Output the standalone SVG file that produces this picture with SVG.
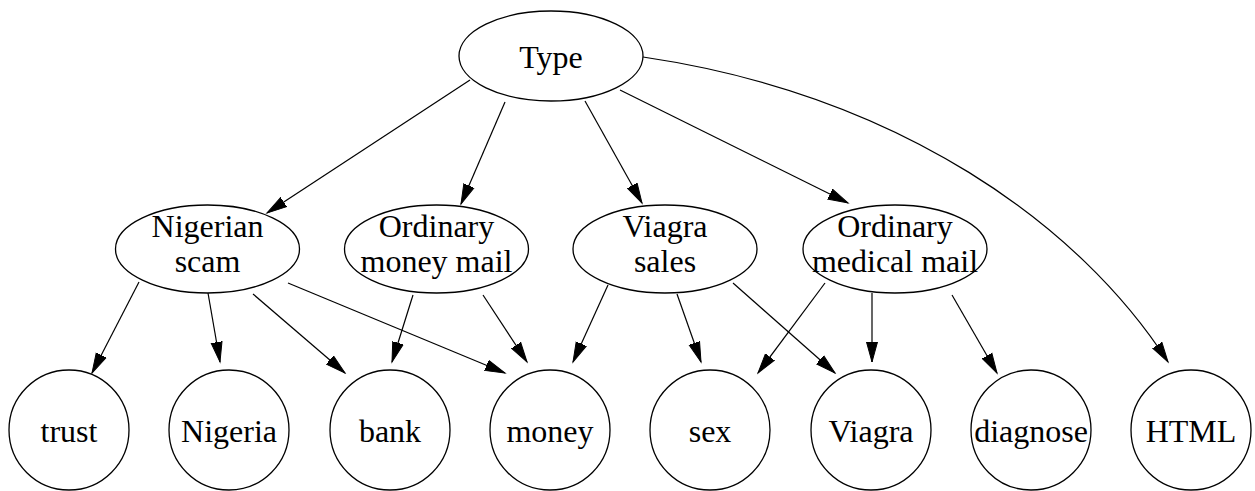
<svg xmlns="http://www.w3.org/2000/svg" width="1255" height="491" viewBox="0 0 1255 491">
<style>
.n{fill:#fff;stroke:#000;stroke-width:1.3}
.t{font-family:"Liberation Serif","Times New Roman",serif;font-size:32px;text-anchor:middle;fill:#000}
.e{fill:none;stroke:#000;stroke-width:1.2;marker-end:url(#arr)}
</style>
<defs>
<marker id="arr" markerWidth="22" markerHeight="13" refX="20" refY="6.5" orient="auto" markerUnits="userSpaceOnUse">
<path d="M0,1 L20,6.5 L0,12 z" fill="#000" stroke="#000" stroke-width="1"/>
</marker>
</defs>
<rect width="1255" height="491" fill="#fff"/>
<g id="connectors">
<path class="e" d="M470,80 L267,213"/>
<path class="e" d="M505,102 L461,204"/>
<path class="e" d="M585,101 L642,203"/>
<path class="e" d="M620,90 L848,203"/>
<path class="e" d="M643,57 C900,95 1080,225 1168,362"/>
<path class="e" d="M139,282 L92,373"/>
<path class="e" d="M208,293 L220,362"/>
<path class="e" d="M253,294 L345,373"/>
<path class="e" d="M288,283 L505,373"/>
<path class="e" d="M413,295 L392,362"/>
<path class="e" d="M483,295 L527,362"/>
<path class="e" d="M608,285 L573,362"/>
<path class="e" d="M677,294 L701,362"/>
<path class="e" d="M733,283 L835,373"/>
<path class="e" d="M825,283 L758,373"/>
<path class="e" d="M872,293 L872,362"/>
<path class="e" d="M952,295 L997,373"/>
</g>
<g id="type"><ellipse class="n" cx="551" cy="56" rx="92" ry="45"/><text class="t" x="551" y="68">Type</text></g>
<g id="nigerian-scam"><ellipse class="n" cx="207.5" cy="249" rx="92" ry="44"/><text class="t" x="207.5" y="237">Nigerian</text><text class="t" x="207.5" y="272">scam</text></g>
<g id="ordinary-money-mail"><ellipse class="n" cx="436.5" cy="249" rx="92" ry="44"/><text class="t" x="436.5" y="237">Ordinary</text><text class="t" x="436.5" y="272">money mail</text></g>
<g id="viagra-sales"><ellipse class="n" cx="665" cy="249" rx="92" ry="44"/><text class="t" x="665" y="237">Viagra</text><text class="t" x="665" y="272">sales</text></g>
<g id="ordinary-medical-mail"><ellipse class="n" cx="895" cy="249" rx="92" ry="44"/><text class="t" x="895" y="237">Ordinary</text><text class="t" x="895" y="272">medical mail</text></g>
<g id="trust"><circle class="n" cx="69" cy="430" r="60"/><text class="t" x="69" y="442">trust</text></g>
<g id="nigeria"><circle class="n" cx="229" cy="430" r="60"/><text class="t" x="229" y="442">Nigeria</text></g>
<g id="bank"><circle class="n" cx="390" cy="430" r="60"/><text class="t" x="390" y="442">bank</text></g>
<g id="money"><circle class="n" cx="550" cy="430" r="60"/><text class="t" x="550" y="442">money</text></g>
<g id="sex"><circle class="n" cx="710" cy="430" r="60"/><text class="t" x="710" y="442">sex</text></g>
<g id="viagra"><circle class="n" cx="871" cy="430" r="60"/><text class="t" x="871" y="442">Viagra</text></g>
<g id="diagnose"><circle class="n" cx="1031" cy="430" r="60"/><text class="t" x="1031" y="442">diagnose</text></g>
<g id="html"><circle class="n" cx="1191" cy="430" r="60"/><text class="t" x="1191" y="442">HTML</text></g>
</svg>
